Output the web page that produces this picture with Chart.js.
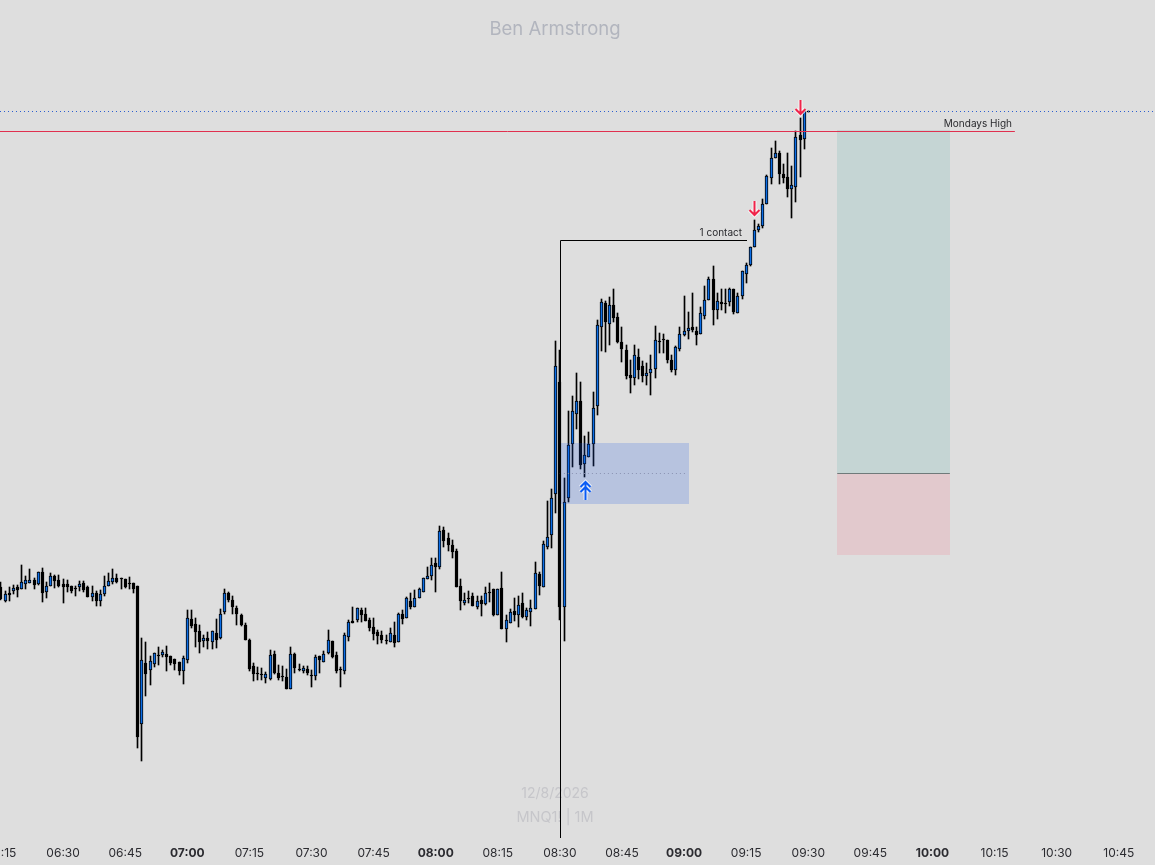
<!DOCTYPE html>
<html>
<head>
<meta charset="utf-8">
<title>Ben Armstrong</title>
<script src="https://cdn.jsdelivr.net/npm/chart.js@4"></script>
<style>
  html, body { margin: 0; padding: 0; background: #dedede; }
  canvas { display: block; }
</style>
</head>
<body>
<canvas id="chart" width="1155" height="865"></canvas>
<script>
// one bar per minute, first bar is 06:15
const firstMinute = 375;

const opens = [25413,25399,25407,25409,25413,25411,25416,25417,25420,25416,25428,25408,25414,25424,25420,25416,25416,25414,25412,25413,25417,25413,25403,25407,25399,25406,25414,25418,25422,25422,25421,25417,25417,25414,25276,25337,25330,25336,25345,25345,25346,25344,25341,25338,25329,25340,25381,25376,25369,25359,25362,25358,25367,25362,25388,25407,25400,25392,25385,25375,25360,25334,25327,25326,25322,25321,25346,25327,25324,25323,25311,25346,25331,25329,25331,25325,25324,25344,25338,25347,25359,25345,25331,25329,25363,25379,25380,25390,25386,25380,25373,25368,25365,25360,25358,25365,25358,25386,25382,25399,25393,25402,25408,25421,25424,25437,25433,25470,25462,25455,25449,25414,25397,25402,25404,25393,25400,25396,25408,25411,25385,25412,25371,25377,25389,25385,25397,25383,25388,25391,25426,25413,25453,25465,25506,25618,25393,25502,25556,25586,25599,25536,25543,25556,25594,25673,25697,25676,25695,25683,25658,25650,25625,25622,25643,25634,25624,25627,25631,25659,25661,25660,25640,25630,25651,25665,25669,25673,25669,25666,25684,25700,25721,25690,25698,25697,25698,25711,25687,25704,25726,25735,25753,25770,25774,25796,25822,25842,25847,25826,25823,25811,25813,25865,25861,25889];
const highs = [25418,25409,25413,25415,25415,25435,25424,25431,25422,25428,25432,25418,25427,25425,25425,25421,25420,25414,25414,25419,25419,25414,25414,25409,25410,25424,25427,25431,25426,25422,25421,25423,25417,25414,25362,25358,25344,25347,25353,25350,25354,25344,25341,25338,25344,25390,25390,25382,25375,25365,25368,25369,25381,25391,25411,25408,25404,25394,25386,25377,25361,25337,25333,25332,25328,25350,25349,25335,25334,25331,25353,25347,25336,25334,25334,25330,25345,25344,25349,25370,25359,25348,25333,25367,25380,25393,25392,25392,25392,25382,25382,25370,25369,25365,25372,25378,25387,25390,25403,25407,25410,25412,25422,25433,25442,25442,25474,25473,25467,25460,25451,25421,25407,25409,25407,25404,25404,25413,25417,25411,25411,25428,25385,25391,25402,25404,25407,25392,25400,25438,25428,25459,25499,25511,25659,25650,25522,25589,25604,25627,25618,25564,25568,25608,25680,25701,25699,25703,25711,25687,25673,25655,25640,25655,25651,25639,25637,25645,25674,25667,25666,25660,25645,25654,25673,25704,25688,25707,25673,25693,25714,25723,25734,25707,25711,25711,25712,25711,25707,25729,25737,25753,25780,25776,25801,25825,25852,25859,25849,25836,25847,25834,25869,25882,25889,25889];
const lows = [25400,25398,25399,25406,25403,25411,25411,25417,25411,25415,25398,25402,25414,25412,25413,25397,25408,25407,25404,25409,25408,25403,25399,25394,25394,25404,25414,25416,25417,25411,25412,25411,25407,25252,25239,25304,25315,25333,25335,25343,25329,25335,25330,25325,25316,25337,25372,25353,25347,25353,25351,25351,25352,25361,25386,25398,25386,25375,25374,25360,25329,25319,25320,25320,25317,25320,25326,25320,25319,25311,25311,25327,25329,25327,25325,25313,25320,25327,25338,25346,25342,25327,25313,25326,25359,25377,25378,25378,25379,25369,25360,25356,25357,25356,25358,25353,25358,25376,25382,25391,25393,25402,25408,25421,25420,25408,25431,25453,25449,25442,25413,25390,25395,25397,25394,25391,25384,25395,25398,25384,25385,25371,25358,25377,25379,25373,25382,25380,25374,25391,25405,25413,25451,25452,25487,25380,25359,25498,25533,25571,25531,25523,25543,25534,25585,25649,25648,25655,25678,25657,25638,25621,25607,25615,25621,25618,25615,25605,25622,25647,25647,25637,25628,25625,25649,25664,25661,25668,25655,25666,25681,25700,25675,25681,25690,25687,25694,25686,25687,25701,25717,25734,25753,25768,25772,25796,25816,25842,25816,25817,25803,25782,25798,25823,25851,25888];
const closes = [25401,25406,25405,25412,25410,25418,25420,25420,25415,25428,25407,25414,25424,25419,25414,25413,25413,25409,25411,25416,25410,25403,25407,25399,25406,25414,25419,25422,25418,25421,25413,25416,25411,25263,25340,25326,25339,25347,25344,25348,25343,25337,25336,25329,25342,25382,25374,25368,25358,25362,25359,25369,25360,25386,25407,25400,25393,25386,25375,25360,25331,25326,25326,25325,25326,25345,25327,25322,25323,25311,25346,25332,25330,25332,25327,25324,25343,25340,25346,25360,25343,25329,25330,25365,25378,25377,25392,25385,25379,25372,25366,25364,25360,25359,25367,25357,25386,25381,25402,25393,25402,25411,25422,25424,25435,25433,25469,25459,25455,25448,25413,25399,25400,25401,25394,25399,25396,25407,25407,25385,25411,25371,25380,25388,25385,25395,25383,25390,25392,25427,25414,25456,25463,25502,25634,25393,25498,25555,25589,25599,25535,25545,25556,25592,25675,25698,25678,25695,25682,25658,25651,25624,25622,25645,25630,25624,25627,25631,25660,25658,25660,25640,25630,25653,25666,25669,25672,25670,25665,25687,25700,25721,25690,25699,25696,25696,25711,25688,25704,25729,25735,25753,25770,25774,25796,25824,25842,25847,25826,25822,25811,25815,25863,25860,25889,25888];

// price levels of the drawings
const mondaysHigh = 25869;
const lastPrice = 25889;
const contactLevel = 25760;
const zoneTop = 25557;
const zoneMid = 25527;
const zoneBottom = 25496.5;
const targetPrice = 25870;
const entryPrice = 25527;
const stopPrice = 25445;

// axis range, one price point is one pixel here
const priceMin = 25159;
const priceMax = 26000;
const timeMin = 374.76;
const timeMax = 653.75;

const UP = '#0c6ee6';
const FONT = 'Inter, "Noto Sans", sans-serif';

const times = opens.map((_, i) => firstMinute + i);
const wicks = times.map((t, i) => ({ x: t, y: [lows[i], highs[i]] }));
const bodies = times.map((t, i) => ({ x: t, y: [opens[i], closes[i]] }));
const bodyColors = times.map((_, i) => (closes[i] > opens[i] ? UP : '#000000'));

function fmtTime(v) {
  const h = Math.floor(v / 60), m = v % 60;
  return String(h).padStart(2, '0') + ':' + String(m).padStart(2, '0');
}

// bars land on fractional pixels otherwise and 1px wicks go blurry
const snapBars = {
  id: 'snapBars',
  beforeDatasetsDraw(chart) {
    chart.data.datasets.forEach((ds, i) => {
      chart.getDatasetMeta(i).data.forEach(el => {
        el.x = Math.round(el.x - 0.5) + 0.5;
        el.y = Math.round(el.y);
        el.base = Math.round(el.base);
      });
    });
  }
};

function text(ctx, str, x, y, font, color, align) {
  ctx.font = font;
  ctx.fillStyle = color;
  ctx.textAlign = align || 'center';
  ctx.textBaseline = 'middle';
  ctx.fillText(str, x, y);
}

function hLine(ctx, x1, x2, y, color, dash) {
  ctx.save();
  ctx.strokeStyle = color;
  ctx.lineWidth = 1;
  ctx.setLineDash(dash || []);
  ctx.beginPath();
  ctx.moveTo(x1, Math.round(y) + 0.5);
  ctx.lineTo(x2, Math.round(y) + 0.5);
  ctx.stroke();
  ctx.restore();
}

function box(ctx, x1, x2, y1, y2, color) {
  ctx.fillStyle = color;
  ctx.fillRect(Math.round(x1), Math.round(y1), Math.round(x2) - Math.round(x1), Math.round(y2) - Math.round(y1));
}

// tip = pixel at the arrow point, dir 1 points down, -1 points up
function arrow(ctx, x, tip, dir, color, dbl) {
  const cx = Math.round(x) + 0.5;
  const path = () => {
    ctx.beginPath();
    ctx.moveTo(cx, tip - dir * (dbl ? 19 : 15));
    ctx.lineTo(cx, tip - dir);
    ctx.moveTo(cx - 5, tip - dir * 6);
    ctx.lineTo(cx, tip - dir);
    ctx.lineTo(cx + 5, tip - dir * 6);
    if (dbl) {
      ctx.moveTo(cx - 5, tip - dir * 11);
      ctx.lineTo(cx, tip - dir * 6);
      ctx.lineTo(cx + 5, tip - dir * 11);
    }
    ctx.stroke();
  };
  ctx.save();
  ctx.lineCap = 'butt';
  ctx.lineJoin = 'miter';
  ctx.strokeStyle = 'rgba(255,255,255,0.75)';
  ctx.lineWidth = 4;
  path();
  ctx.strokeStyle = color;
  ctx.lineWidth = 2;
  path();
  ctx.restore();
}

const drawings = {
  id: 'drawings',
  beforeDatasetsDraw(chart) {
    const { ctx, scales: { x, y } } = chart;
    ctx.save();
    text(ctx, 'Ben Armstrong', 555, 29, '18.5px ' + FONT, '#b2b5be');
    text(ctx, '12/8/2026', 555, 794, '14px ' + FONT, '#c6c6ca');
    text(ctx, 'MNQ1! | 1M', 555, 818, '14.5px ' + FONT, '#c6c6ca');

    box(ctx, x.getPixelForValue(577), x.getPixelForValue(604.2), y.getPixelForValue(targetPrice), y.getPixelForValue(entryPrice), '#c5d5d4');
    box(ctx, x.getPixelForValue(577), x.getPixelForValue(604.2), y.getPixelForValue(entryPrice), y.getPixelForValue(stopPrice), '#e2c9cd');
    hLine(ctx, x.getPixelForValue(577), x.getPixelForValue(604.2), y.getPixelForValue(entryPrice), '#6f7a7a');
    ctx.restore();
  },
  afterDatasetsDraw(chart) {
    const { ctx, scales: { x, y } } = chart;
    ctx.save();
    const zoneL = x.getPixelForValue(510), zoneR = x.getPixelForValue(541.2);
    box(ctx, zoneL, zoneR, y.getPixelForValue(zoneTop), y.getPixelForValue(zoneBottom), 'rgba(30,90,230,0.2)');
    hLine(ctx, zoneL, zoneR - 3, y.getPixelForValue(zoneMid), '#8890b0', [1, 3]);

    // dotted last price, solid monday high
    hLine(ctx, 0, chart.width, y.getPixelForValue(lastPrice), '#2d5fd0', [1, 3]);
    hLine(ctx, 0, x.getPixelForValue(619.9), y.getPixelForValue(mondaysHigh), '#e0304f');
    text(ctx, 'Mondays High', x.getPixelForValue(619.2), y.getPixelForValue(mondaysHigh) - 7, '10px ' + FONT, '#2a2a2e', 'right');

    // contact line with the drop to the bottom
    const cx = Math.round(x.getPixelForValue(510)) + 0.5;
    const cy = Math.round(y.getPixelForValue(contactLevel)) + 0.5;
    hLine(ctx, cx, x.getPixelForValue(555.2), y.getPixelForValue(contactLevel), '#000000');
    ctx.strokeStyle = '#000000';
    ctx.lineWidth = 1;
    ctx.beginPath();
    ctx.moveTo(cx, cy);
    ctx.lineTo(cx, y.getPixelForValue(priceMin) - 3);
    ctx.stroke();
    text(ctx, '1 contact', x.getPixelForValue(554), y.getPixelForValue(contactLevel) - 7, '10px ' + FONT, '#2a2a2e', 'right');

    arrow(ctx, x.getPixelForValue(568), y.getPixelForValue(25885), 1, '#f0244a');
    arrow(ctx, x.getPixelForValue(557), y.getPixelForValue(25784), 1, '#f0244a');
    arrow(ctx, x.getPixelForValue(516), y.getPixelForValue(25519), -1, '#0a5cf5', true);
    ctx.restore();
  }
};

new Chart(document.getElementById('chart'), {
  type: 'bar',
  data: {
    datasets: [
      {
        label: 'wick',
        data: wicks,
        backgroundColor: '#000000',
        barThickness: 1,
        grouped: false,
        order: 2
      },
      {
        label: 'body',
        data: bodies,
        backgroundColor: bodyColors,
        borderColor: '#000000',
        borderWidth: 1,
        borderSkipped: false,
        barThickness: 3,
        grouped: false,
        order: 1
      }
    ]
  },
  options: {
    responsive: false,
    animation: false,
    layout: { padding: 0 },
    plugins: {
      legend: { display: false },
      tooltip: { enabled: false },
      title: { display: false }
    },
    scales: {
      x: {
        type: 'linear',
        offset: false, // bar charts default to true, that insets both edges
        min: timeMin,
        max: timeMax,
        grid: { display: false, drawTicks: false },
        border: { display: false },
        // labels at both edges may run off the canvas, no inset for them
        afterFit: s => {
          s.paddingLeft = 0;
          s.paddingRight = 0;
          s.height = 24;
          s._margins.left = 0;
          s._margins.right = 0;
        },
        ticks: {
          stepSize: 15,
          includeBounds: false,
          autoSkip: false,
          maxRotation: 0,
          padding: 5,
          color: '#2b2b30',
          font: c => ({ family: FONT, size: 12, weight: c.tick && c.tick.value % 60 === 0 ? '700' : '400' }),
          callback: v => fmtTime(v)
        }
      },
      y: {
        display: false,
        min: priceMin,
        max: priceMax
      }
    }
  },
  plugins: [snapBars, drawings]
});
</script>
</body>
</html>
